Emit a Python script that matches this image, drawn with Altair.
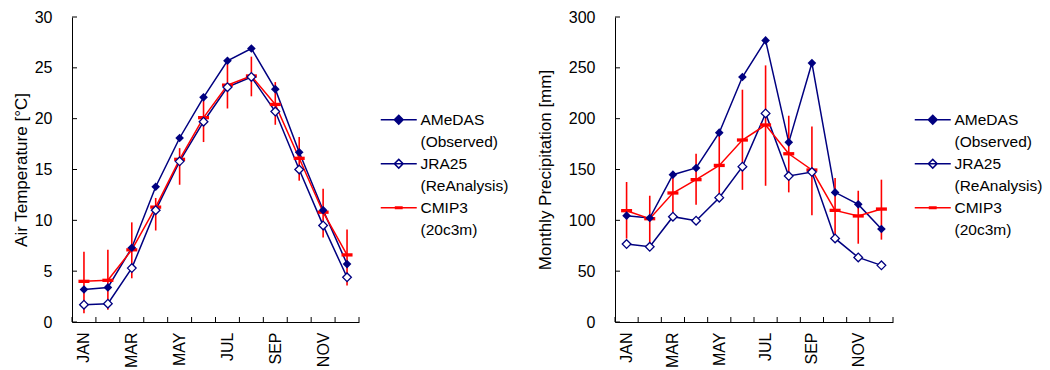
import altair as alt
import pandas as pd

months = ["JAN", "FEB", "MAR", "APR", "MAY", "JUN", "JUL", "AUG", "SEP", "OCT", "NOV", "DEC"]
month_num = list(range(1, 13))
label_months = [1, 3, 5, 7, 9, 11]

temp_amedas = [3.2, 3.4, 7.3, 13.3, 18.1, 22.1, 25.7, 26.9, 22.9, 16.7, 11.0, 5.7]
temp_jra = [1.7, 1.8, 5.3, 11.0, 15.8, 19.7, 23.1, 24.1, 20.7, 15.0, 9.5, 4.4]
temp_cmip = [4.0, 4.1, 7.1, 11.3, 16.0, 20.1, 23.3, 24.2, 21.4, 16.1, 10.8, 6.6]
temp_cmip_hi = [6.9, 7.1, 9.8, 12.2, 17.1, 21.8, 25.4, 26.1, 23.6, 18.2, 13.1, 9.1]
temp_cmip_lo = [0.85, 1.2, 4.3, 9.0, 13.5, 17.7, 21.0, 22.2, 19.4, 13.9, 8.3, 3.6]

prec_amedas = [104.6, 102.3, 144.9, 151.5, 186.2, 241.0, 277.0, 176.7, 254.7, 127.5, 115.7, 91.5]
prec_jra = [76.7, 74.0, 103.6, 99.6, 122.3, 152.8, 205.2, 143.6, 147.5, 82.2, 63.5, 55.7]
prec_cmip = [109.5, 101.6, 126.9, 140.0, 154.0, 179.0, 193.8, 165.5, 149.5, 109.8, 104.3, 111.1]
prec_cmip_hi = [137.7, 124.2, 145.0, 165.5, 184.0, 228.5, 252.4, 202.9, 192.4, 141.6, 129.1, 140.0]
prec_cmip_lo = [82.0, 76.0, 107.0, 115.4, 125.9, 130.0, 134.0, 127.5, 104.9, 85.9, 77.0, 81.0]

legend_keys = ["AMeDAS", "(Observed)", "JRA25", "(ReAnalysis)", "CMIP3", "(20c3m)"]

NAVY = "#000080"
RED = "#ff0000"
FONT = "Liberation Sans"

DIAMOND_LINE = "M-4.5,0L4.5,0M0,-1.1L1.1,0L0,1.1L-1.1,0Z"
DASH_LINE = "M-4.5,0L4.5,0M-0.8,-0.2L0.8,-0.2L0.8,0.2L-0.8,0.2Z"
BLANK = "M0,0"
DASH = "M-1,-0.3L1,-0.3L1,0.3L-1,0.3Z"


def panel(amedas, jra, cmip, hi, lo, ymax, ystep, ytitle, W, H, lx, ly, tpad):
    df = pd.DataFrame({"m": month_num, "amedas": amedas, "jra": jra,
                       "cmip": cmip, "hi": hi, "lo": lo})
    yvals = list(range(0, ymax + 1, ystep))
    xs = alt.Scale(domain=[0.5, 12.5], nice=False, zero=False)
    ys = alt.Scale(domain=[0, ymax], nice=False)
    label_expr = "[" + ",".join(f"'{m}'" for m in months) + "][datum.value - 1]"
    xaxis = alt.Axis(values=label_months, labelExpr=label_expr, labelAngle=270,
                     title=None, ticks=False, tickSize=0, grid=False,
                     labelPadding=10, domainColor="black")
    yaxis = alt.Axis(values=yvals, title=ytitle, ticks=False, tickSize=0,
                     grid=False, labelPadding=20, titlePadding=tpad,
                     domainColor="black")
    X = alt.X("m:Q", scale=xs, axis=xaxis)

    def Y(f):
        return alt.Y(f"{f}:Q", scale=ys, axis=yaxis)

    bnd = pd.DataFrame({"b": [m - 0.5 for m in month_num] + [12.5]})
    yt = pd.DataFrame({"t": yvals})
    base = alt.Chart(df)

    xticks = alt.Chart(bnd).mark_rule(color="black", strokeWidth=1).encode(
        x=alt.X("b:Q", scale=xs, axis=xaxis), y=alt.value(H - 5), y2=alt.value(H))
    yticks = alt.Chart(yt).mark_rule(color="black", strokeWidth=1).encode(
        y=alt.Y("t:Q", scale=ys, axis=yaxis), x=alt.value(0), x2=alt.value(5))

    l_am = base.mark_line(color=NAVY, strokeWidth=1.5).encode(x=X, y=Y("amedas"))
    l_jr = base.mark_line(color=NAVY, strokeWidth=1.5).encode(x=X, y=Y("jra"))
    l_cm = base.mark_line(color=RED, strokeWidth=1.5).encode(x=X, y=Y("cmip"))
    err = base.mark_rule(color=RED, strokeWidth=1.6).encode(
        x=X, y=Y("lo"), y2=alt.Y2("hi"))
    dash = base.mark_point(shape=DASH, size=121, filled=True, color=RED,
                           opacity=1).encode(x=X, y=Y("cmip"))
    p_jr = base.mark_point(shape="diamond", size=75, fill="white", stroke=NAVY,
                           strokeWidth=1.3, opacity=1, filled=False).encode(x=X, y=Y("jra"))
    p_am = base.mark_point(shape="diamond", size=75, filled=True, color=NAVY,
                           opacity=1).encode(x=X, y=Y("amedas"))

    leg = alt.Legend(title=None, orient="none", legendX=lx, legendY=ly,
                     labelFont=FONT, labelFontSize=15.5, labelColor="black",
                     symbolSize=64, symbolStrokeWidth=1.5, rowPadding=5,
                     symbolOffset=12, labelOffset=14, padding=0)
    leg_df = pd.DataFrame({"key": legend_keys})
    shp = alt.Scale(domain=legend_keys,
                    range=[DIAMOND_LINE, BLANK, DIAMOND_LINE, BLANK, DASH_LINE, BLANK])
    fil = alt.Scale(domain=legend_keys,
                    range=[NAVY, "transparent", "white", "transparent", RED, "transparent"])
    stk = alt.Scale(domain=legend_keys,
                    range=[NAVY, "transparent", NAVY, "transparent", RED, "transparent"])
    legend_layer = alt.Chart(leg_df).mark_point(
        clip=True, opacity=1, size=64, strokeWidth=1.5).encode(
        x=alt.value(-100), y=alt.value(-100),
        shape=alt.Shape("key:N", scale=shp, legend=leg),
        fill=alt.Fill("key:N", scale=fil, legend=leg),
        stroke=alt.Stroke("key:N", scale=stk, legend=leg))

    return alt.layer(xticks, yticks, l_am, l_jr, l_cm, err, dash, p_jr, p_am,
                     legend_layer).properties(width=W, height=H)


left = panel(temp_amedas, temp_jra, temp_cmip, temp_cmip_hi, temp_cmip_lo,
             30, 5, "Air Temperature [°C]", 287, 305, 307, 95, 4)
right = panel(prec_amedas, prec_jra, prec_cmip, prec_cmip_hi, prec_cmip_lo,
              300, 50, "Monthly Precipitation [mm]", 278, 305, 298, 95, 14)

chart = alt.hconcat(left, right, spacing=27).resolve_scale(
    x="independent", y="independent", shape="independent",
    fill="independent", stroke="independent").resolve_legend(
    shape="independent", fill="independent", stroke="independent").properties(
    padding={"left": 12, "top": 9, "right": 0, "bottom": 0},
    background="white").configure_view(stroke=None).configure_axis(
    labelFont=FONT, labelFontSize=16, labelColor="black",
    titleFont=FONT, titleFontSize=17, titleFontWeight="normal",
    titleColor="black")

chart.save("out.html", embed_options={"renderer": "svg", "actions": False})
